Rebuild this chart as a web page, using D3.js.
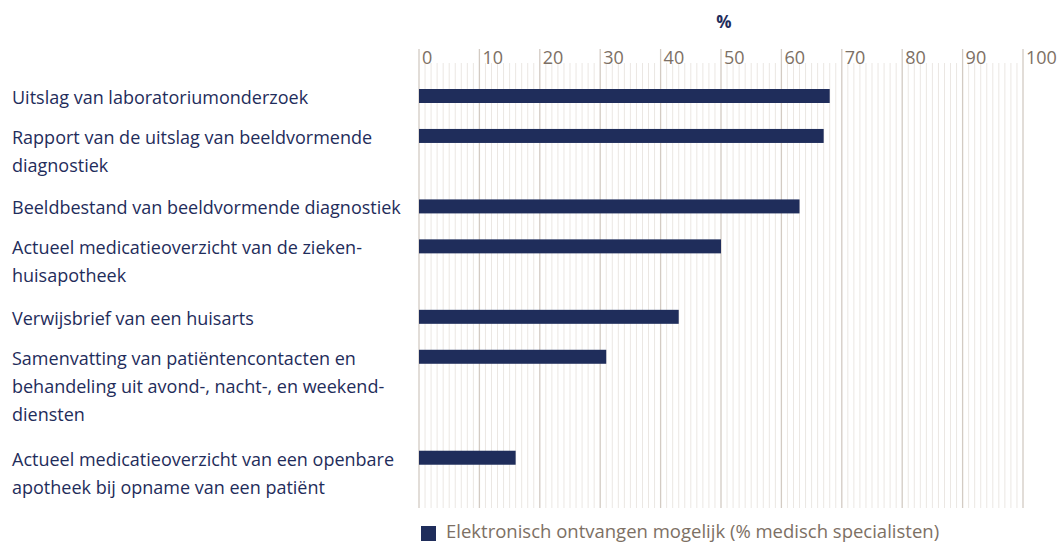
<!DOCTYPE html>
<html>
<head>
<meta charset="utf-8">
<script src="https://cdn.jsdelivr.net/npm/d3@7/dist/d3.min.js"></script>
<style>
  body { margin: 0; background: #fff; }
  svg { display: block; font-family: "Open Sans", sans-serif; }
</style>
</head>
<body>
<script>
const categories = [
  "Uitslag van laboratoriumonderzoek",
  "Rapport van de uitslag van beeldvormende\ndiagnostiek",
  "Beeldbestand van beeldvormende diagnostiek",
  "Actueel medicatieoverzicht van de zieken-\nhuisapotheek",
  "Verwijsbrief van een huisarts",
  "Samenvatting van patiëntencontacten en\nbehandeling uit avond-, nacht-, en weekend-\ndiensten",
  "Actueel medicatieoverzicht van een openbare\napotheek bij opname van een patiënt"
];
const values = [68, 67, 63, 50, 43, 31, 16];
const majorTicks = [0, 10, 20, 30, 40, 50, 60, 70, 80, 90, 100];
const axisTitle = "%";
const legendLabel = "Elektronisch ontvangen mogelijk (% medisch specialisten)";

const width = 1062, height = 542;
const navy = "#1f2d5b";
const brown = "#7d7064";

const svg = d3.select("body").append("svg")
  .attr("width", width)
  .attr("height", height);

const x = d3.scaleLinear().domain([0, 100]).range([419, 1023]);

// vertical layout: each category gets its own number of text lines
const lines = categories.map(c => c.split("\n"));
const offsets = [];
let acc = 0;
lines.forEach(l => { offsets.push(acc); acc += l.length + 0.31; });
const y = d3.scaleLinear().domain([0, 1]).range([98, 128.5]);

// minor grid
svg.append("g")
  .selectAll("line")
  .data(d3.range(0, 101).filter(v => v % 10 !== 0))
  .join("line")
  .attr("x1", d => x(d)).attr("x2", d => x(d))
  .attr("y1", 63).attr("y2", 508)
  .attr("stroke", "#ebe7e3")
  .attr("stroke-width", 1);

// major grid
svg.append("g")
  .selectAll("line")
  .data(majorTicks)
  .join("line")
  .attr("x1", d => x(d)).attr("x2", d => x(d))
  .attr("y1", 49).attr("y2", 508)
  .attr("stroke", "#d3cbc3")
  .attr("stroke-width", 1.3);

svg.append("g")
  .selectAll("text")
  .data(majorTicks)
  .join("text")
  .attr("x", d => x(d) + 3)
  .attr("y", 64)
  .attr("fill", brown)
  .attr("font-size", 18)
  .text(d => d);

svg.append("text")
  .attr("x", 724)
  .attr("y", 28)
  .attr("text-anchor", "middle")
  .attr("fill", navy)
  .attr("font-size", 17)
  .attr("font-weight", "bold")
  .text(axisTitle);

// bars
svg.append("g")
  .selectAll("rect")
  .data(values)
  .join("rect")
  .attr("x", x(0))
  .attr("y", (d, i) => y(offsets[i]) - 9)
  .attr("width", d => x(d) - x(0))
  .attr("height", 14)
  .attr("fill", navy);

// category labels
const label = svg.append("g")
  .selectAll("text")
  .data(categories)
  .join("text")
  .attr("fill", navy)
  .attr("font-size", 18);

label.each(function (d, i) {
  d3.select(this)
    .selectAll("tspan")
    .data(lines[i])
    .join("tspan")
    .attr("x", 12)
    .attr("y", (t, j) => y(offsets[i]) + 6 + j * 28)
    .text(t => t);
});

// legend
svg.append("rect")
  .attr("x", 421).attr("y", 526)
  .attr("width", 15).attr("height", 15)
  .attr("fill", navy);

svg.append("text")
  .attr("x", 446)
  .attr("y", 538)
  .attr("fill", brown)
  .attr("font-size", 18.5)
  .text(legendLabel);
</script>
</body>
</html>
